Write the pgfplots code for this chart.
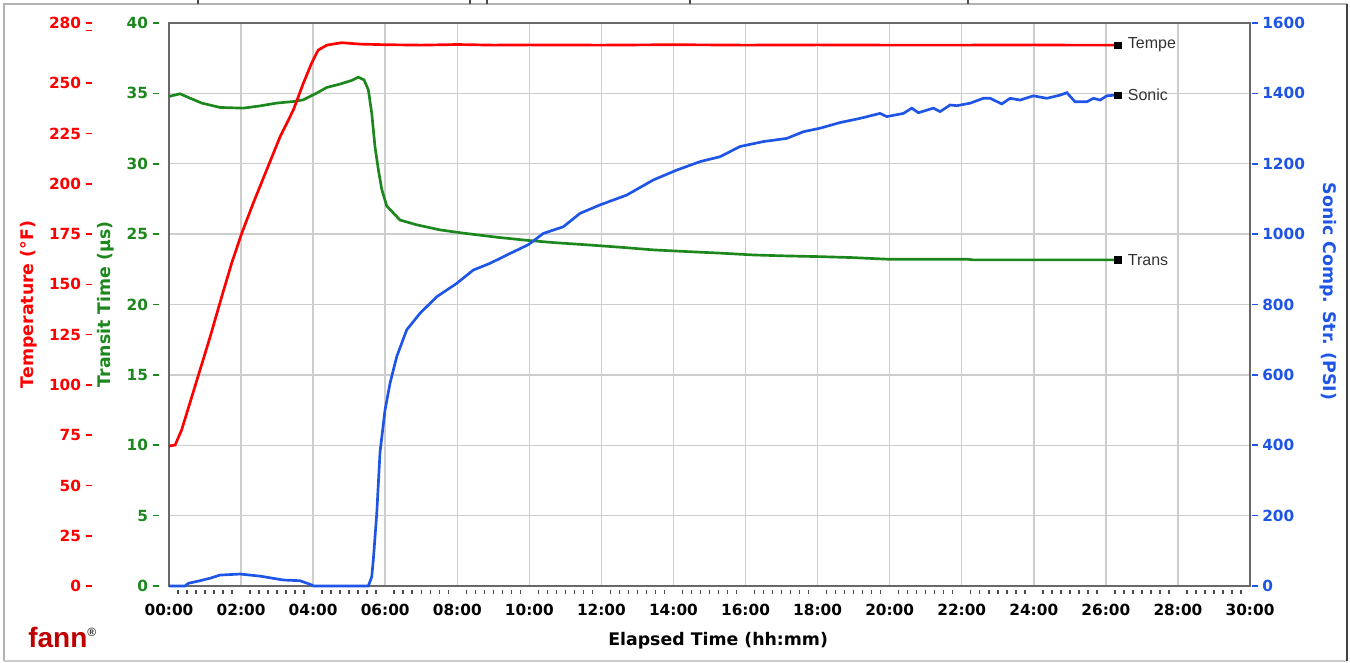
\documentclass[border=0pt]{standalone}
\usepackage{fontspec}
\setmainfont{DejaVu Sans}
\newfontfamily\labfont{Liberation Sans}
\usepackage{pgfplots}
\pgfplotsset{compat=1.18}
\definecolor{tred}{RGB}{255,0,0}
\definecolor{tgreen}{RGB}{28,135,28}
\definecolor{tblue}{RGB}{30,85,230}
\definecolor{gridc}{RGB}{205,205,205}
\definecolor{boxc}{RGB}{105,105,105}
\definecolor{fannred}{RGB}{190,0,0}
\newcommand{\tdash}{\rule[3.6pt]{4.5pt}{1.2pt}}
\newcommand{\rl}[1]{#1\hspace{3.5pt}\tdash}
\tikzset{lab/.style={font=\fontsize{13}{16}\selectfont\bfseries, anchor=center}}
\pgfplotsset{
 common/.style={
  scale only axis, width=810.75pt, height=422.25pt,
  at={(126.75pt,57.75pt)}, anchor=south west,
  xmin=0, xmax=30, clip=false,
  /pgf/number format/assume math mode=true,
  /pgf/number format/1000 sep={},
  ticklabel style={font=\fontsize{11.5}{14}\selectfont\bfseries, inner sep=0pt},
  major tick length=0pt,
 },
}
\begin{document}
\begin{tikzpicture}
\useasboundingbox (0,0) rectangle (1012.5pt,497.25pt);
% window frame
\draw[gray!60, line width=0.8pt] (3pt,1.5pt) -- (3pt,494.25pt) -- (1010.25pt,494.25pt);
\draw[gray!40, line width=0.8pt] (3pt,1.5pt) -- (1010.25pt,1.5pt);
\draw[black!75, line width=1pt] (1010.25pt,1.5pt) -- (1010.25pt,494.25pt);
\foreach \xx in {148.5,352.5,365.25,517.5,726} {\draw[black!70, line width=0.8pt] (\xx pt,494.25pt) -- (\xx pt,497.25pt);}

% main (green) axis
\begin{axis}[common,
 ymin=0, ymax=40, ytick={0,5,...,40},
 xtick={0,2,...,30},
 xticklabels={00:00,02:00,04:00,06:00,08:00,10:00,12:00,14:00,16:00,18:00,20:00,22:00,24:00,26:00,28:00,30:00},
 minor x tick num=7,
 grid=major, major grid style={gridc, line width=1.1pt},
 axis line style={boxc, line width=1.3pt},
 tick align=outside, minor tick length=3pt,
 minor x tick style={black!70, line width=1.1pt, yshift=-3pt},
 xtick pos=bottom, ytick pos=left,
 yticklabel={\rl{\pgfmathprintnumber{\tick}}},
 yticklabel style={text=tgreen, anchor=east, xshift=-7.5pt},
 xticklabel style={anchor=north, yshift=-13.5pt, text=black},
 xlabel={Elapsed Time (hh:mm)},
 every axis x label/.style={lab, at={(axis description cs:0.508,0)}, anchor=north, yshift=-31.5pt},
 ylabel={Transit Time (µs)},
 every axis y label/.style={lab, at={(axis description cs:-0.0583,0.5)}, rotate=90, text=tgreen},
]
\addplot[tgreen, line width=2pt] coordinates {
(0,34.78) (0.305,34.97) (0.583,34.66) (0.908,34.31) (1.415,34.0) (2.062,33.95) (2.526,34.11)
(2.989,34.31) (3.450,34.42) (3.727,34.54) (4.099,35.02) (4.377,35.42) (4.746,35.66) (5.071,35.92)
(5.254,36.15) (5.412,35.96) (5.532,35.25) (5.626,33.6) (5.717,31.2) (5.809,29.6) (5.903,28.2)
(6.042,27.0) (6.411,26.0) (6.875,25.66) (7.521,25.3) (8.168,25.07) (9.095,24.78) (9.928,24.56)
(10.666,24.4) (11.593,24.24) (12.517,24.07) (13.442,23.88) (14.369,23.76) (15.293,23.65)
(16.217,23.52) (17.144,23.45) (18.068,23.4) (18.993,23.33) (19.920,23.22) (22.140,23.22)
(22.323,23.17) (26.339,23.17)} node[pos=1, anchor=west, xshift=3pt, text=black!80, font=\labfont\fontsize{12}{14}\selectfont] {Trans};
\addplot[only marks, mark=square*, mark size=2.5pt, black] coordinates {(26.339,23.17)};
\end{axis}

% red temperature axis
\begin{axis}[common, hide x axis, axis y line*=left, y axis line style={draw=none},
 ymin=0, ymax=280, ytick={0,25,50,75,100,125,150,175,200,225,250,275,280},
 yticklabels={\rl{0},\rl{25},\rl{50},\rl{75},\rl{100},\rl{125},\rl{150},\rl{175},\rl{200},\rl{225},\rl{250},\tdash,\rl{280}},
 yticklabel style={text=tred, anchor=east, xshift=-57.75pt},
 ylabel={Temperature (°F)},
 every axis y label/.style={lab, at={(axis description cs:-0.1295,0.5)}, rotate=90, text=tred},
]
\addplot[tred, line width=2pt] coordinates {
(0,69.6) (0.17,70.1) (0.35,77.6) (0.58,91) (0.86,107.4) (1.14,123.8) (1.46,143.7) (1.74,160.6)
(2.02,175.5) (2.34,190.5) (2.71,206.9) (3.08,223.3) (3.45,236.7) (3.73,250.1) (3.96,260.1)
(4.14,266.5) (4.38,269.0) (4.79,270.2) (5.30,269.5) (6,269.2) (7,269.0) (8,269.3) (9,269.0)
(10,269.1) (12,269.0) (14,269.2) (16,269.0) (18,269.1) (20,269.0) (22,269.0) (24,269.1) (25,269.0) (26.339,269.0)}
 node[pos=1, anchor=west, xshift=3pt, text=black!80, font=\labfont\fontsize{12}{14}\selectfont] {Tempe};
\addplot[only marks, mark=square*, mark size=2.5pt, black] coordinates {(26.339,269.0)};
\end{axis}

% blue sonic strength axis
\begin{axis}[common, hide x axis, axis y line*=right, y axis line style={draw=none},
 ymin=0, ymax=1600, ytick={0,200,...,1600},
 yticklabel={\tdash\hspace{3pt}\pgfmathprintnumber{\tick}},
 yticklabel style={text=tblue, anchor=west, xshift=1.5pt},
 ylabel={Sonic Comp. Str. (PSI)},
 every axis y label/.style={lab, at={(axis description cs:1.072,0.523)}, rotate=-90, text=tblue},
]
\addplot[tblue, line width=2pt] coordinates {
(0,0) (0.444,0) (0.536,7.6) (0.860,15) (1.138,22) (1.415,31) (1.971,34) (2.526,28) (3.172,17)
(3.636,15) (3.961,3) (4.005,0) (5.532,0) (5.626,26) (5.670,74) (5.765,205) (5.856,380) (5.995,500)
(6.134,576) (6.320,652) (6.597,728) (6.966,775) (7.430,822) (7.985,860) (8.446,898) (8.909,917)
(9.464,945) (9.972,970) (10.389,1002) (10.944,1021) (11.407,1059) (11.962,1083) (12.703,1111)
(13.442,1154) (14.091,1182) (14.738,1206) (15.293,1220) (15.848,1249) (16.495,1263) (17.144,1272)
(17.605,1291) (18.068,1301) (18.623,1317) (19.178,1329) (19.733,1343) (19.920,1334) (20.380,1343)
(20.614,1358) (20.797,1345) (21.213,1358) (21.399,1348) (21.676,1367) (21.862,1365) (22.231,1372)
(22.600,1386) (22.787,1386) (23.111,1370) (23.342,1386) (23.619,1381) (23.988,1393) (24.360,1386)
(24.730,1395) (24.916,1402) (25.146,1376) (25.471,1376) (25.654,1386) (25.840,1381) (26.026,1393)
(26.257,1395) (26.339,1395)}
 node[pos=1, anchor=west, xshift=3pt, text=black!80, font=\labfont\fontsize{12}{14}\selectfont] {Sonic};
\addplot[only marks, mark=square*, mark size=2.5pt, black] coordinates {(26.339,1395)};
\end{axis}

\node[anchor=base west, text=fannred, font=\labfont\fontsize{21}{24}\selectfont\bfseries, inner sep=0pt]
 at (21pt,11.5pt) {fann\raisebox{8pt}{\fontsize{9}{9}\selectfont\color{black!80}®}};
\end{tikzpicture}
\end{document}
